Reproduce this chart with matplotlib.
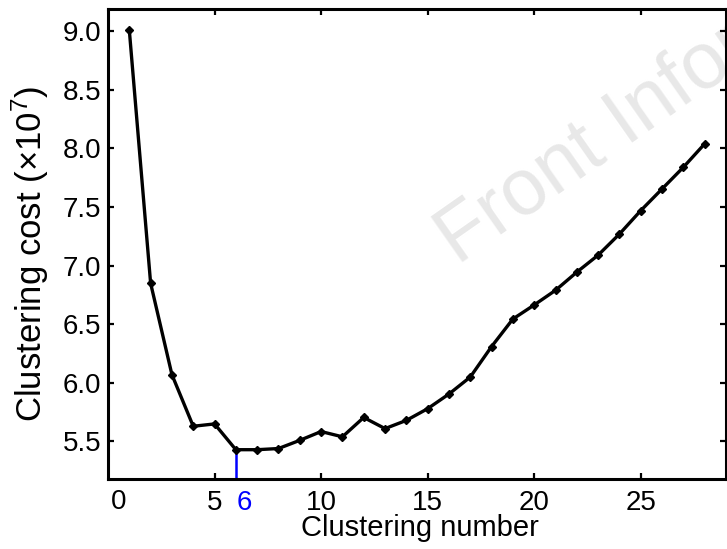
import matplotlib
matplotlib.use("Agg")
import matplotlib.pyplot as plt

plt.rcParams['font.family'] = ['Liberation Sans', 'DejaVu Sans']
plt.rcParams['mathtext.fontset'] = 'custom'
plt.rcParams['mathtext.rm'] = 'Liberation Sans'
plt.rcParams['mathtext.it'] = 'Liberation Sans:italic'

# clustering number vs clustering cost (x 10^7)
clusterNumber = list(range(1, 29))
clusterCost = [9.01, 6.85, 6.07, 5.63, 5.65, 5.43, 5.43, 5.44, 5.51, 5.585,
               5.54, 5.705, 5.61, 5.68, 5.78, 5.905, 6.05, 6.31, 6.545, 6.665,
               6.79, 6.945, 7.09, 7.27, 7.47, 7.655, 7.84, 8.04]
bestNumber = 6
xTicks = [5, 10, 15, 20, 25]
yTicks = [5.5, 6.0, 6.5, 7.0, 7.5, 8.0, 8.5, 9.0]

fig = plt.figure(figsize=(7.27, 5.49), dpi=100)
ax = fig.add_axes([108 / 727, 1 - 479 / 549, 618 / 727, 470 / 549])
ax.set_facecolor('none')

# watermark (cut by the right edge like in the source)
ax.text(0.566, 0.455, 'Front Infor', transform=ax.transAxes, fontsize=57,
        color='#e8e8e8', rotation=35, rotation_mode='anchor',
        ha='left', va='baseline', zorder=0, clip_on=True,
        clip_box=fig.bbox)

ax.plot(clusterNumber, clusterCost, color='k', linewidth=2.4,
        marker='D', markersize=3.8, zorder=3)

bestCost = clusterCost[clusterNumber.index(bestNumber)]
ax.vlines(bestNumber, 5.18, bestCost, colors='b', linewidth=1.8, zorder=2)

ax.set_xlim(0, 29)
ax.set_ylim(5.18, 9.19)
ax.set_xticks(xTicks)
ax.set_yticks(yTicks)
ax.set_yticklabels(['%.1f' % v for v in yTicks])

ax.tick_params(direction='in', top=True, right=True, length=4, width=1.6,
               labelsize=20)
ax.tick_params(axis='x', pad=8)
ax.tick_params(axis='y', pad=5)
for s in ax.spines.values():
    s.set_linewidth(2.2)

# extra x labels: 0 and the chosen number
ax.annotate('0', xy=(0.5, 0), xycoords=('data', 'axes fraction'),
            xytext=(0, -10), textcoords='offset pixels',
            ha='center', va='top', fontsize=20)
ax.annotate(str(bestNumber), xy=(6.4, 0), xycoords=('data', 'axes fraction'),
            xytext=(0, -11), textcoords='offset pixels',
            ha='center', va='top', fontsize=20, color='b')

ax.set_xlabel('Clustering number', fontsize=21)
ax.xaxis.set_label_coords(0.505, -0.074)
ax.set_ylabel(r'Clustering cost ($\times$10$^7$)', fontsize=25)
ax.yaxis.set_label_coords(-0.092, 0.48)

fig.savefig('out.png', dpi=100)
